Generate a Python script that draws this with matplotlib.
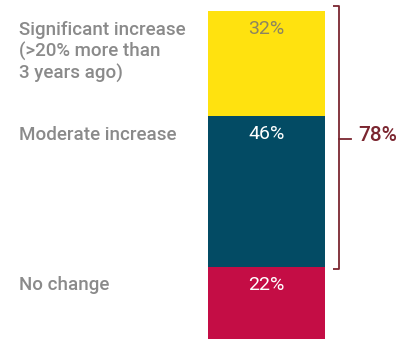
import matplotlib.pyplot as plt

categories = ["Significant increase\n(>20% more than\n3 years ago)", "Moderate increase", "No change"]
values = [32, 46, 22]
pct_labels = ["32%", "46%", "22%"]
bar_colors = ["#FFE20F", "#034B64", "#C40D45"]
pct_colors = ["#8C8560", "white", "white"]
bracket_label = "78%"

W, H = 419, 342
fig = plt.figure(figsize=(W / 100, H / 100), dpi=100)
# axes spans the bar's vertical extent; x in pixel-like units
ax = fig.add_axes([0, 3 / H, 1, 328 / H])
ax.set_xlim(0, W)
ax.set_ylim(100, 0)
ax.axis("off")

bar_x = 266.5
bar_w = 117
bottom = 0
for val, col, lab, pc in zip(values, bar_colors, pct_labels, pct_colors):
    ax.bar(bar_x, val, width=bar_w, bottom=bottom, color=col, linewidth=0)
    ax.text(bar_x, bottom + 5.6, lab, ha="center", va="center", color=pc,
            fontsize=14, family="Roboto")
    bottom += val

# category labels on the left
label_y = [2.9, 35.0, 80.8]
for cat, y in zip(categories, label_y):
    ax.text(19, y, cat, ha="left", va="top", color="#8A8A8A",
            fontsize=13.5, family="Roboto", fontweight="medium",
            linespacing=1.22)

# bracket around first two segments
bracket_top = -1.5
bracket_bot = values[0] + values[1] + 0.7
bx = 339
red = "#7B2630"
ax.plot([bx - 6, bx, bx, bx - 6], [bracket_top, bracket_top, bracket_bot, bracket_bot],
        color=red, linewidth=1.3, solid_capstyle="butt", clip_on=False)
mid = (values[0] + values[1]) / 2
ax.plot([bx, bx + 12], [mid, mid], color=red, linewidth=1.3, clip_on=False)
ax.text(bx + 19, mid - 1, bracket_label, ha="left", va="center", color=red,
        fontsize=15, family="Roboto", fontweight="medium")

fig.savefig("out.png", dpi=100)
